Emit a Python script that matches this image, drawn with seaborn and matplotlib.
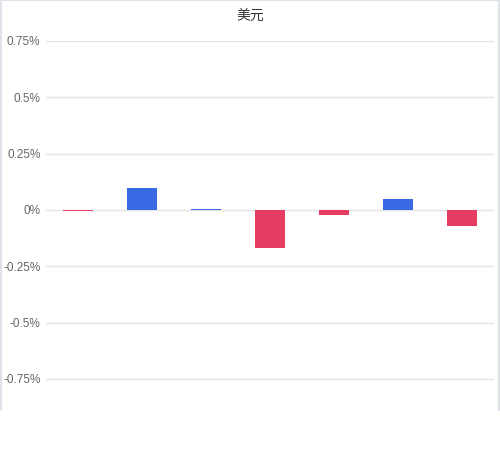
import matplotlib
matplotlib.use("Agg")
import matplotlib.pyplot as plt
import seaborn as sns
import pandas as pd
from matplotlib.lines import Line2D

categories = ["A", "B", "C", "D", "E", "F", "G"]
values = [-0.005, 0.098, 0.004, -0.170, -0.022, 0.050, -0.072]
y_ticks = [-0.75, -0.5, -0.25, 0, 0.25, 0.5, 0.75]
y_tick_labels = ["-0.75%", "-0.5%", "-0.25%", "0%", "0.25%", "0.5%", "0.75%"]
title = "美元"

sns.set_theme(style="white")
plt.rcParams["font.family"] = ["Noto Sans CJK SC", "DejaVu Sans"]

df = pd.DataFrame({"cat": categories, "val": values})
df["sign"] = ["pos" if v >= 0 else "neg" for v in values]

fig = plt.figure(figsize=(5, 4.58), dpi=100)
ax = fig.add_axes([46 / 500, 1 - 410 / 458, (494 - 46) / 500, (410 - 41) / 458])

sns.barplot(data=df, x="cat", y="val", hue="sign",
            palette={"pos": "#3a6ae3", "neg": "#e53d62"},
            saturation=1, linewidth=0, dodge=False, width=0.47,
            legend=False, ax=ax, zorder=3)

ax.set_ylim(-0.888, 0.75)
ax.set_yticks(y_ticks)
ax.set_yticklabels(y_tick_labels, fontsize=8.5, color="#666666", family="Liberation Sans")
ax.set_xticks([])
ax.set_xlabel("")
ax.set_ylabel("")
ax.grid(axis="y", color="#e3e3e3", linewidth=1, zorder=0)
ax.tick_params(axis="y", length=0, pad=4)
for s in ax.spines.values():
    s.set_visible(False)

fig.text(0.5, 1 - 17 / 458, title, ha="center", va="center", fontsize=10, color="#333333")

# outer border (left, top, right), cut off at bottom
bc = "#dde3e8"
fig.add_artist(Line2D([0.001, 0.001], [1 - 410 / 458, 1], transform=fig.transFigure, color=bc, lw=1.5))
fig.add_artist(Line2D([0, 1], [0.999, 0.999], transform=fig.transFigure, color=bc, lw=1.5))
fig.add_artist(Line2D([0.998, 0.998], [1 - 410 / 458, 1], transform=fig.transFigure, color=bc, lw=1.5))

fig.savefig("out.png", dpi=100)
